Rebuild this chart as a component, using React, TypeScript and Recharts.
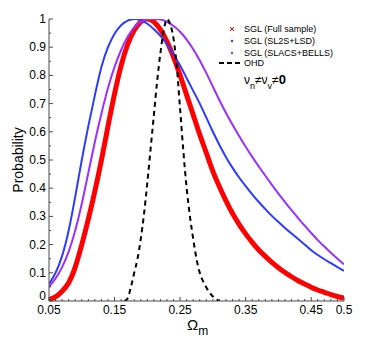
import { Line, LineChart, XAxis, YAxis } from 'recharts';

// Normalised likelihood of Omega_m for the SGL sub-samples and OHD.

const omega = [
  0.05, 0.06, 0.07, 0.08, 0.09, 0.1, 0.11, 0.12, 0.13, 0.14, 0.15, 0.16, 0.17, 0.18, 0.19, 0.2,
  0.21, 0.22, 0.23, 0.24, 0.25, 0.26, 0.27, 0.28, 0.29, 0.3, 0.31, 0.32, 0.33, 0.34, 0.35, 0.36,
  0.37, 0.38, 0.39, 0.4, 0.41, 0.42, 0.43, 0.44, 0.45, 0.46, 0.47, 0.48, 0.49, 0.5,
];
const fullSample = [
  0.005, 0.015, 0.035, 0.065, 0.12, 0.2, 0.29, 0.39, 0.5, 0.62, 0.735, 0.835, 0.91, 0.96, 0.99, 1.0,
  0.99, 0.962, 0.92, 0.865, 0.8, 0.73, 0.66, 0.59, 0.525, 0.46, 0.405, 0.355, 0.31, 0.272, 0.238, 0.208,
  0.181, 0.158, 0.137, 0.118, 0.101, 0.086, 0.072, 0.06, 0.049, 0.039, 0.031, 0.023, 0.016, 0.01,
];
const sl2sLsd = [
  0.06, 0.1, 0.16, 0.25, 0.37, 0.5, 0.62, 0.73, 0.83, 0.9, 0.948, 0.978, 0.994, 1.0, 0.995, 0.983,
  0.964, 0.94, 0.91, 0.875, 0.835, 0.79, 0.745, 0.7, 0.65, 0.6, 0.553, 0.51, 0.472, 0.438, 0.407, 0.378,
  0.351, 0.326, 0.302, 0.28, 0.259, 0.239, 0.22, 0.2, 0.18, 0.163, 0.148, 0.134, 0.12, 0.107,
];
const slacsBells = [
  0.05, 0.08, 0.12, 0.175, 0.25, 0.345, 0.455, 0.565, 0.665, 0.755, 0.83, 0.89, 0.937, 0.97, 0.99, 0.999,
  1.0, 0.998, 0.99, 0.975, 0.955, 0.927, 0.893, 0.853, 0.808, 0.76, 0.712, 0.667, 0.625, 0.585, 0.547, 0.511,
  0.477, 0.444, 0.412, 0.381, 0.351, 0.322, 0.294, 0.267, 0.241, 0.216, 0.193, 0.171, 0.15, 0.13,
];

const ohdOmega = [
  0.165, 0.17, 0.175, 0.18, 0.185, 0.19, 0.195, 0.2, 0.205, 0.21, 0.215, 0.22, 0.225, 0.23, 0.235,
  0.24, 0.245, 0.25, 0.255, 0.26, 0.265, 0.27, 0.275, 0.28, 0.285, 0.29, 0.295, 0.3, 0.305, 0.31,
];
const ohd = [
  0, 0.01, 0.05, 0.1, 0.15, 0.22, 0.31, 0.42, 0.54, 0.66, 0.78, 0.88, 0.96, 1.0, 0.98,
  0.93, 0.83, 0.68, 0.53, 0.4, 0.3, 0.22, 0.15, 0.1, 0.07, 0.048, 0.03, 0.016, 0.006, 0,
];

const xLabels = [0.05, 0.15, 0.25, 0.35, 0.45, 0.5];
const yLabels = [0, 0.1, 0.2, 0.3, 0.4, 0.5, 0.6, 0.7, 0.8, 0.9, 1];

// minor ticks every 0.01 on x, every 0.05 on y
const xTicks = Array.from({ length: 46 }, (_, i) => +(0.05 + i * 0.01).toFixed(2));
const yTicks = Array.from({ length: 21 }, (_, i) => +(i * 0.05).toFixed(2));

const sglData = omega.map((x, i) => ({
  x,
  full: fullSample[i],
  sl2s: sl2sLsd[i],
  slacs: slacsBells[i],
}));
const ohdData = ohdOmega.map((x, i) => ({ x, ohd: ohd[i] }));

const FONT = '"Liberation Sans", Arial, Helvetica, sans-serif';
const AXIS = '#4a4a4a';
const RED = '#ff0000';
const BLUE = '#2b3cff';
const PURPLE = '#9b30ff';

const isIn = (list: number[], v: number) => list.some((t) => Math.abs(t - v) < 1e-6);

const XTick = (props: any) => {
  const { x, y, payload, side } = props;
  const v = payload.value;
  const major = isIn(xLabels, v);
  const len = major ? 4 : 2;
  const dir = side === 'top' ? 1 : -1;
  return (
    <g>
      <line x1={x} x2={x} y1={y} y2={y + dir * len} stroke={AXIS} />
      {side !== 'top' && major && (
        <text x={x} y={y + 13} textAnchor="middle" fontSize={12} fill="#000" fontFamily={FONT}>
          {String(v)}
        </text>
      )}
    </g>
  );
};

const YTick = (props: any) => {
  const { x, y, payload, side } = props;
  const v = payload.value;
  const major = isIn(yLabels, v);
  const len = major ? 4 : 2;
  const dir = side === 'right' ? -1 : 1;
  return (
    <g>
      <line x1={x} x2={x + dir * len} y1={y} y2={y} stroke={AXIS} />
      {side !== 'right' && major && (
        <text x={x - 3} y={v === 0 ? y - 1 : y + 4} textAnchor="end" fontSize={12} fill="#000" fontFamily={FONT}>
          {String(v)}
        </text>
      )}
    </g>
  );
};

const legendRows = [
  { label: 'SGL (Full sample)', color: RED, kind: 'x' },
  { label: 'SGL (SL2S+LSD)', color: BLUE, kind: 'dot' },
  { label: 'SGL (SLACS+BELLS)', color: PURPLE, kind: 'dot' },
];

export default function App() {
  return (
    <div style={{ position: 'absolute', left: 0, top: 0, width: 374, height: 340, background: '#fff' }}>
      <LineChart
        width={374}
        height={340}
        margin={{ top: 19, right: 30, bottom: 0, left: 0 }}
        style={{ fontFamily: FONT }}
      >
        <XAxis
          dataKey="x"
          type="number"
          domain={[0.05, 0.5]}
          allowDataOverflow
          ticks={xTicks}
          interval={0}
          height={39}
          tickSize={0}
          tickMargin={0}
          tickLine={false}
          stroke={AXIS}
          tick={<XTick side="bottom" />}
          label={{
            position: 'insideBottom',
            content: () => (
              <text x={187} y={330} fontSize={15} fill="#000" fontFamily={FONT}>
                Ω
                <tspan fontSize={12} dy={5}>
                  m
                </tspan>
              </text>
            ),
          }}
        />
        <XAxis
          xAxisId="top"
          orientation="top"
          dataKey="x"
          type="number"
          domain={[0.05, 0.5]}
          allowDataOverflow
          ticks={xTicks}
          interval={0}
          height={0}
          tickSize={0}
          tickMargin={0}
          tickLine={false}
          stroke={AXIS}
          tick={<XTick side="top" />}
        />
        <YAxis
          type="number"
          domain={[0, 1]}
          allowDataOverflow
          ticks={yTicks}
          interval={0}
          width={49}
          tickSize={0}
          tickMargin={0}
          tickLine={false}
          stroke={AXIS}
          tick={<YTick side="left" />}
          label={{
            position: 'insideLeft',
            content: () => (
              <text
                x={23}
                y={160}
                fontSize={14}
                fill="#000"
                textAnchor="middle"
                fontFamily={FONT}
                transform="rotate(-90, 23, 160)"
              >
                Probability
              </text>
            ),
          }}
        />
        <YAxis
          yAxisId="right"
          orientation="right"
          type="number"
          domain={[0, 1]}
          allowDataOverflow
          ticks={yTicks}
          interval={0}
          width={0}
          tickSize={0}
          tickMargin={0}
          tickLine={false}
          stroke={AXIS}
          tick={<YTick side="right" />}
        />
        <Line
          data={sglData}
          dataKey="full"
          type="natural"
          stroke={RED}
          strokeWidth={5}
          dot={false}
          isAnimationActive={false}
        />
        <Line
          data={sglData}
          dataKey="sl2s"
          type="natural"
          stroke={BLUE}
          strokeWidth={2}
          dot={false}
          isAnimationActive={false}
        />
        <Line
          data={sglData}
          dataKey="slacs"
          type="natural"
          stroke={PURPLE}
          strokeWidth={2}
          dot={false}
          isAnimationActive={false}
        />
        <Line
          data={ohdData}
          dataKey="ohd"
          type="monotone"
          stroke="#000"
          strokeWidth={2}
          strokeDasharray="5 4"
          dot={false}
          isAnimationActive={false}
        />
      </LineChart>

      {/* legend, no frame, as in the original figure */}
      <svg
        width={374}
        height={340}
        style={{ position: 'absolute', left: 0, top: 0, pointerEvents: 'none' }}
        fontFamily={FONT}
      >
        {legendRows.map((r, i) => {
          const cy = 29 + i * 12;
          return (
            <g key={r.label}>
              {r.kind === 'x' ? (
                <g stroke={r.color} strokeWidth={1}>
                  <line x1={230} y1={cy - 2} x2={234} y2={cy + 2} />
                  <line x1={230} y1={cy + 2} x2={234} y2={cy - 2} />
                </g>
              ) : (
                <circle cx={232} cy={cy} r={1.2} fill={r.color} />
              )}
              <text x={244} y={cy + 3} fontSize={9} fill="#000">
                {r.label}
              </text>
            </g>
          );
        })}
        <line x1={219} y1={63} x2={243} y2={63} stroke="#000" strokeWidth={2} strokeDasharray="5 3" />
        <text x={244} y={66} fontSize={9} fill="#000">
          OHD
        </text>
        <text x={244} y={84} fontSize={12} fill="#000">
          ν
          <tspan fontSize={9} dy={5}>
            n
          </tspan>
          <tspan fontSize={12} dy={-5}>
            ≠ν
          </tspan>
          <tspan fontSize={9} dy={5}>
            v
          </tspan>
          <tspan fontSize={12} dy={-5}>
            ≠
          </tspan>
          <tspan fontSize={13} fontWeight="bold">
            0
          </tspan>
        </text>
      </svg>
    </div>
  );
}
